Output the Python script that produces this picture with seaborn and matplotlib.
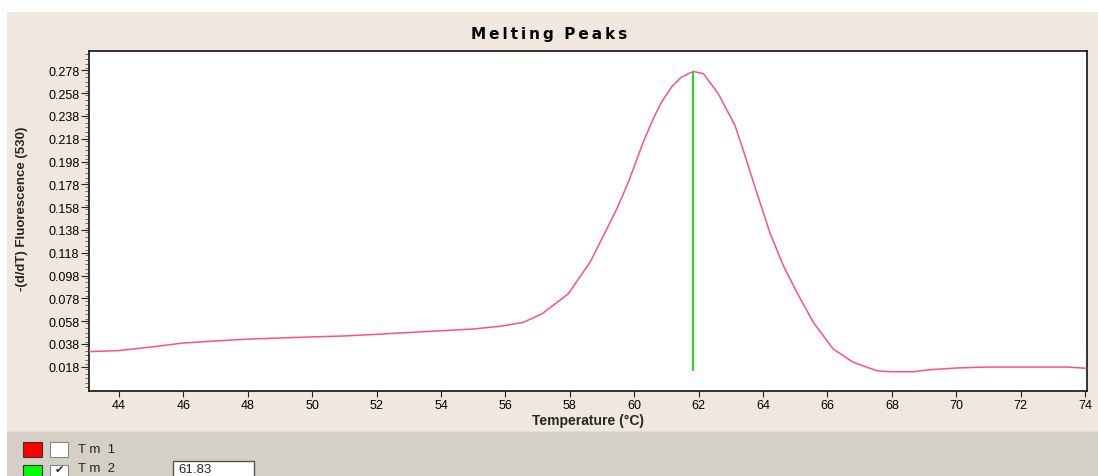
import numpy as np
import pandas as pd
import matplotlib
matplotlib.use("Agg")
import matplotlib.pyplot as plt
from matplotlib.patches import Rectangle
from matplotlib.ticker import MultipleLocator
import seaborn as sns

# melting peak curve
temps = [43.07, 44.0, 45.0, 46.0, 47.0, 48.07, 49.0, 49.93, 51.0, 51.92, 53.0, 53.91,
         55.0, 55.89, 56.56, 57.13, 57.95, 58.63, 59.2, 59.46, 59.82, 60.28, 60.59,
         60.85, 61.16, 61.47, 61.83, 62.15, 62.61, 63.13, 63.44, 63.8, 64.22, 64.63,
         65.05, 65.56, 66.18, 66.8, 67.53, 67.94, 68.66, 69.19, 70.02, 70.96, 72.29,
         73.44, 74.06]
fluor = [0.0312, 0.0322, 0.0353, 0.0388, 0.0406, 0.0423, 0.0432, 0.0441, 0.0450, 0.0463,
         0.0480, 0.0494, 0.0511, 0.0537, 0.0570, 0.0643, 0.0819, 0.1097, 0.1418, 0.1565,
         0.1800, 0.2150, 0.2356, 0.2502, 0.2634, 0.2722, 0.2771, 0.2751, 0.2575, 0.2297,
         0.2033, 0.1712, 0.1350, 0.1067, 0.0833, 0.0570, 0.0335, 0.0219, 0.0145, 0.0136,
         0.0136, 0.0154, 0.0169, 0.0177, 0.0177, 0.0177, 0.0166]

tm_value = 61.83
tm_line = [0.0145, 0.2771]
x_ticks = list(range(44, 75, 2))
y_ticks = [0.018 + 0.02 * i for i in range(14)]

df = pd.DataFrame({"Temperature": temps, "Fluorescence": fluor})

W, H = 1098, 477
beige = "#EEE8DF"
grey = "#D4D0C8"


def fx(px):
    return px / W


def fy(py):
    return 1 - py / H


sns.set_theme(style="white")
plt.rcParams["font.family"] = ["Liberation Sans", "DejaVu Sans"]

fig = plt.figure(figsize=(W / 100, H / 100), dpi=100, facecolor="white")

# background panels
fig.add_artist(Rectangle((fx(7), fy(432)), fx(W - 7), (432 - 13) / H,
                         transform=fig.transFigure, facecolor=beige, edgecolor="none", zorder=0))
fig.add_artist(Rectangle((fx(7), 0), fx(W - 7), fy(432),
                         transform=fig.transFigure, facecolor=grey, edgecolor="none", zorder=0))
fig.add_artist(Rectangle((fx(7), fy(433)), fx(W - 7), 1.5 / H,
                         transform=fig.transFigure, facecolor="#E2DED6", edgecolor="none", zorder=0))

ax = fig.add_axes([fx(89), fy(392), fx(1087 - 89), (392 - 52) / H])
ax.set_facecolor("white")

sns.lineplot(data=df, x="Temperature", y="Fluorescence", ax=ax, color="#FF4F88",
             linewidth=1.1, zorder=3)
ax.vlines(tm_value, tm_line[0], tm_line[1], color="#22DD22", linewidth=1.5, zorder=4)

ax.set_xlim(43.07, 74.06)
ax.set_ylim(-0.0033, 0.295)
ax.set_xticks(x_ticks)
ax.set_xticklabels([str(t) for t in x_ticks])
ax.set_yticks(y_ticks)
ax.set_yticklabels([f"{v:.3f}" for v in y_ticks])
ax.yaxis.set_minor_locator(MultipleLocator(0.004))

ax.tick_params(axis="both", which="major", direction="out", labelsize=9, colors="#222222",
               labelcolor="black")
ax.tick_params(axis="y", which="major", length=6, width=0.8, pad=1, left=True)
ax.tick_params(axis="y", which="minor", length=3, width=0.6, left=True, color="#555555")
ax.tick_params(axis="x", which="major", length=4, width=0.8, pad=2, bottom=True)

for side in ["top", "right", "left", "bottom"]:
    ax.spines[side].set_visible(True)
    ax.spines[side].set_color("#222222")
    ax.spines[side].set_linewidth(1.3)

ax.set_xlabel("Temperature (°C)", fontsize=10, fontweight="bold", labelpad=1)
ax.set_ylabel("")
fig.text(fx(22), fy(209), "-(d/dT) Fluorescence (530)", rotation=90, fontsize=9.5,
         fontweight="bold", ha="center", va="center")

hs = "\u200a"
title = (hs * 2).join("Melting") + "  " + (hs * 2).join("Peaks")
fig.text(fx(549), fy(34), title, fontsize=11, fontweight="heavy", ha="center", va="center",
         color="black", family=["DejaVu Sans"])

# Tm legend panel
fig.add_artist(Rectangle((fx(23), fy(458)), 19 / W, 15 / H, transform=fig.transFigure,
                         facecolor="#FF0000", edgecolor="#333333", linewidth=0.8))
fig.add_artist(Rectangle((fx(50), fy(458)), 18 / W, 15 / H, transform=fig.transFigure,
                         facecolor="white", edgecolor="#888888", linewidth=0.8))
fig.text(fx(78), fy(450), "T m  1", fontsize=9.5, ha="left", va="center")

fig.add_artist(Rectangle((fx(23), fy(481)), 19 / W, 15 / H, transform=fig.transFigure,
                         facecolor="#00FF00", edgecolor="#333333", linewidth=0.8))
fig.add_artist(Rectangle((fx(50), fy(481)), 18 / W, 15 / H, transform=fig.transFigure,
                         facecolor="white", edgecolor="#888888", linewidth=0.8))
fig.text(fx(59), fy(470), "\u2714", fontsize=8, ha="center", va="center",
         family=["DejaVu Sans"])
fig.text(fx(78), fy(469), "T m  2", fontsize=9.5, ha="left", va="center")

fig.add_artist(Rectangle((fx(173), fy(482)), 81 / W, 20 / H, transform=fig.transFigure,
                         facecolor="white", edgecolor="#555555", linewidth=1.0))
fig.text(fx(178), fy(470), "61.83", fontsize=9.5, ha="left", va="center")

fig.savefig("out.png", dpi=100, facecolor="white")
